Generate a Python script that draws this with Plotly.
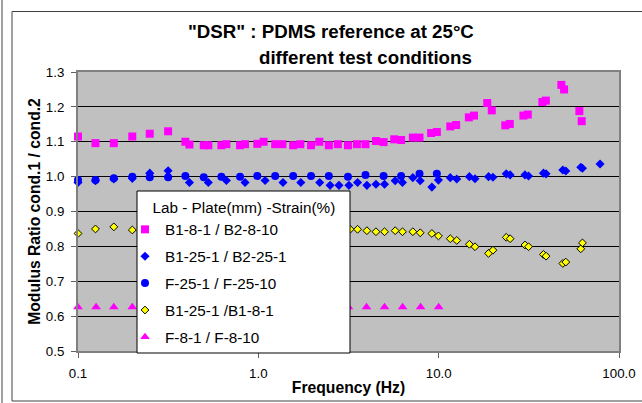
import plotly.graph_objects as go

# ---------------- data ----------------
pink_freq = [0.100, 0.125, 0.158, 0.200, 0.250, 0.316, 0.394, 0.415, 0.498, 0.528,
             0.624, 0.665, 0.792, 0.844, 0.987, 1.07, 1.24, 1.36, 1.56, 1.71,
             1.96, 2.18, 2.46, 2.76, 3.14, 3.52, 3.93, 4.49, 4.95, 5.67,
             6.19, 7.19, 7.83, 9.08, 9.77, 11.6, 12.5, 14.7, 15.7, 18.6,
             19.7, 23.4, 24.8, 29.5, 31.2, 37.6, 39.3, 47.9, 49.6, 60.3, 62.1]
pink_val = [1.115, 1.096, 1.096, 1.115, 1.123, 1.130, 1.100, 1.092, 1.090, 1.090,
            1.090, 1.093, 1.090, 1.093, 1.094, 1.100, 1.093, 1.093, 1.090, 1.093,
            1.090, 1.100, 1.090, 1.093, 1.090, 1.093, 1.093, 1.102, 1.099, 1.107,
            1.105, 1.112, 1.112, 1.125, 1.128, 1.144, 1.148, 1.170, 1.175, 1.211,
            1.190, 1.147, 1.151, 1.175, 1.178, 1.214, 1.218, 1.263, 1.250, 1.188, 1.159]

bdia_freq = [0.100, 0.125, 0.158, 0.200, 0.250, 0.316, 0.415, 0.528, 0.665, 0.844,
             1.09, 1.37, 1.72, 2.19, 2.50, 2.80, 3.18, 3.55, 4.00, 4.49,
             5.01, 5.74, 6.30, 7.19, 7.90, 9.17, 9.97, 11.6, 12.6, 14.8,
             15.9, 18.9, 20.0, 23.7, 24.9, 30.1, 31.5, 38.1, 39.4, 48.8,
             50.7, 61.4, 62.7, 78.5]
bdia_val = [0.983, 0.988, 0.993, 0.995, 1.010, 1.017, 0.983, 0.983, 0.989, 0.983,
            0.989, 0.983, 0.983, 0.983, 0.975, 0.975, 0.975, 0.983, 0.975, 0.978,
            0.978, 0.988, 0.983, 0.997, 0.988, 0.970, 0.990, 0.997, 0.993, 1.000,
            0.994, 1.000, 0.998, 1.008, 1.005, 1.005, 1.002, 1.010, 1.008, 1.019,
            1.016, 1.027, 1.024, 1.036]

bcir_freq = [0.100, 0.125, 0.158, 0.200, 0.250, 0.316, 0.394, 0.498, 0.624, 0.792,
             0.987, 1.24, 1.56, 1.96, 2.46, 3.14, 3.93, 4.95, 6.19, 7.83, 9.77]
bcir_val = [0.990, 0.990, 0.995, 1.000, 0.998, 0.998, 1.002, 0.998, 1.000, 1.000,
            1.002, 1.002, 1.002, 1.002, 1.002, 1.000, 1.005, 1.002, 1.002, 1.008, 1.008]

yel_freq = [0.100, 0.125, 0.158, 0.200, 3.23, 3.55, 4.00, 4.49, 5.01, 5.74,
            6.30, 7.19, 7.90, 9.17, 9.97, 11.6, 12.6, 14.8, 15.9, 18.9,
            20.0, 23.7, 24.9, 30.1, 31.5, 38.1, 39.4, 48.8, 50.7, 61.4, 62.7]
yel_val = [0.837, 0.850, 0.856, 0.847, 0.849, 0.849, 0.845, 0.842, 0.842, 0.845,
           0.842, 0.842, 0.839, 0.837, 0.830, 0.822, 0.817, 0.806, 0.799, 0.780,
           0.789, 0.826, 0.822, 0.804, 0.799, 0.777, 0.772, 0.751, 0.755, 0.793, 0.810]

tri_freq = [0.100, 0.126, 0.158, 0.200, 3.16, 3.98, 5.01, 6.31, 7.94, 10.0]
tri_val = [0.626, 0.626, 0.626, 0.626, 0.626, 0.626, 0.626, 0.626, 0.626, 0.626]

series_names = ["B1-8-1 / B2-8-10", "B1-25-1 / B2-25-1", "F-25-1 / F-25-10",
                "B1-25-1 /B1-8-1", "F-8-1 / F-8-10"]

x_tickvals = [0.1, 1, 10, 100]
x_ticktext = ["0.1", "1.0", "10.0", "100.0"]

title_line1 = '"DSR" : PDMS reference at 25°C'
title_line2 = 'different test conditions'
legend_title = 'Lab - Plate(mm) -Strain(%)'

FONT = "Arial, 'Liberation Sans', sans-serif"

fig = go.Figure()
fig.add_trace(go.Scatter(x=pink_freq, y=pink_val, mode="markers", name=series_names[0],
                         legendgroup="g1", cliponaxis=False,
                         marker=dict(symbol="square", size=8, color="#FF00FF")))
fig.add_trace(go.Scatter(x=bdia_freq, y=bdia_val, mode="markers", name=series_names[1],
                         legendgroup="g2", cliponaxis=False,
                         marker=dict(symbol="diamond", size=7, color="#0000FF")))
fig.add_trace(go.Scatter(x=bcir_freq, y=bcir_val, mode="markers", name=series_names[2],
                         legendgroup="g3", cliponaxis=False,
                         marker=dict(symbol="circle", size=8, color="#0000FF")))
fig.add_trace(go.Scatter(x=yel_freq, y=yel_val, mode="markers", name=series_names[3],
                         legendgroup="g4", cliponaxis=False,
                         marker=dict(symbol="diamond", size=6, color="#FFFF00",
                                     line=dict(color="#000000", width=1))))
fig.add_trace(go.Scatter(x=tri_freq, y=tri_val, mode="markers", name=series_names[4],
                         legendgroup="g5", cliponaxis=False,
                         marker=dict(symbol="triangle-up", size=8.5, color="#FF00FF")))

# plot area in pixels: x 78..619, y 72..351
def px_x(p):
    return (p - 78) / 541.0

def px_y(p):
    return (351 - p) / 279.0

shapes = [
    # legend box
    dict(type="rect", xref="paper", yref="paper", layer="above",
         x0=px_x(137), x1=px_x(350), y0=px_y(353), y1=px_y(191),
         fillcolor="#FFFFFF", line=dict(color="#000000", width=1)),
    # outer chart border
    dict(type="rect", xref="paper", yref="paper", layer="below",
         x0=px_x(12), x1=px_x(660), y0=px_y(401), y1=px_y(11.5),
         fillcolor="rgba(0,0,0,0)", line=dict(color="#404040", width=1)),
    dict(type="line", xref="paper", yref="paper", layer="below",
         x0=px_x(2), x1=px_x(2), y0=px_y(410), y1=px_y(-5),
         line=dict(color="#404040", width=1)),
]

annotations = [
    dict(text="<b>" + title_line1 + "</b>", xref="paper", yref="paper",
         x=px_x(331), y=px_y(32), xanchor="center", yanchor="middle",
         showarrow=False, font=dict(family=FONT, size=18.7, color="#000000")),
    dict(text="<b>" + title_line2 + "</b>", xref="paper", yref="paper",
         x=px_x(365), y=px_y(57), xanchor="center", yanchor="middle",
         showarrow=False, font=dict(family=FONT, size=18.7, color="#000000")),
]

fig.update_layout(
    width=642, height=403,
    margin=dict(l=78, r=23, t=72, b=52, pad=0, autoexpand=False),
    paper_bgcolor="#FFFFFF",
    plot_bgcolor="#C0C0C0",
    font=dict(family=FONT, color="#000000"),
    showlegend=True,
    shapes=shapes,
    annotations=annotations,
    legend=dict(
        x=px_x(125), xanchor="left", y=px_y(193), yanchor="top",
        bgcolor="rgba(0,0,0,0)", borderwidth=0,
        font=dict(family=FONT, size=15.3, color="#000000"),
        title=dict(text="\u00a0" * 6 + legend_title,
                   font=dict(family=FONT, size=15.3, color="#000000")),
        tracegroupgap=4, traceorder="grouped",
    ),
    xaxis=dict(
        type="log", range=[-1, 2], automargin=False,
        tickvals=x_tickvals, ticktext=x_ticktext,
        showgrid=False, zeroline=False,
        showline=True, linecolor="#808080", linewidth=2, mirror=True,
        ticks="outside", ticklen=5, tickwidth=1, tickcolor="#606060",
        ticklabelstandoff=4,
        tickfont=dict(family=FONT, size=13.3, color="#000000"),
        title=dict(text="<b>Frequency (Hz)</b>", standoff=2,
                   font=dict(family=FONT, size=15.7, color="#000000")),
    ),
    yaxis=dict(
        range=[0.5, 1.3], dtick=0.1, tick0=0.5, tickformat=".1f", automargin=False,
        showgrid=True, gridcolor="#000000", gridwidth=1, zeroline=False,
        showline=True, linecolor="#808080", linewidth=2, mirror=True,
        ticks="outside", ticklen=5, tickwidth=1, tickcolor="#606060",
        ticklabelstandoff=4,
        tickfont=dict(family=FONT, size=13.3, color="#000000"),
        title=dict(text="<b>Modulus Ratio cond.1 / cond.2</b>", standoff=1,
                   font=dict(family=FONT, size=15.7, color="#000000")),
    ),
)

fig.write_html("out.html", config={"displayModeBar": False},
               post_script="document.body.style.margin='0px';document.body.style.padding='0px';")
